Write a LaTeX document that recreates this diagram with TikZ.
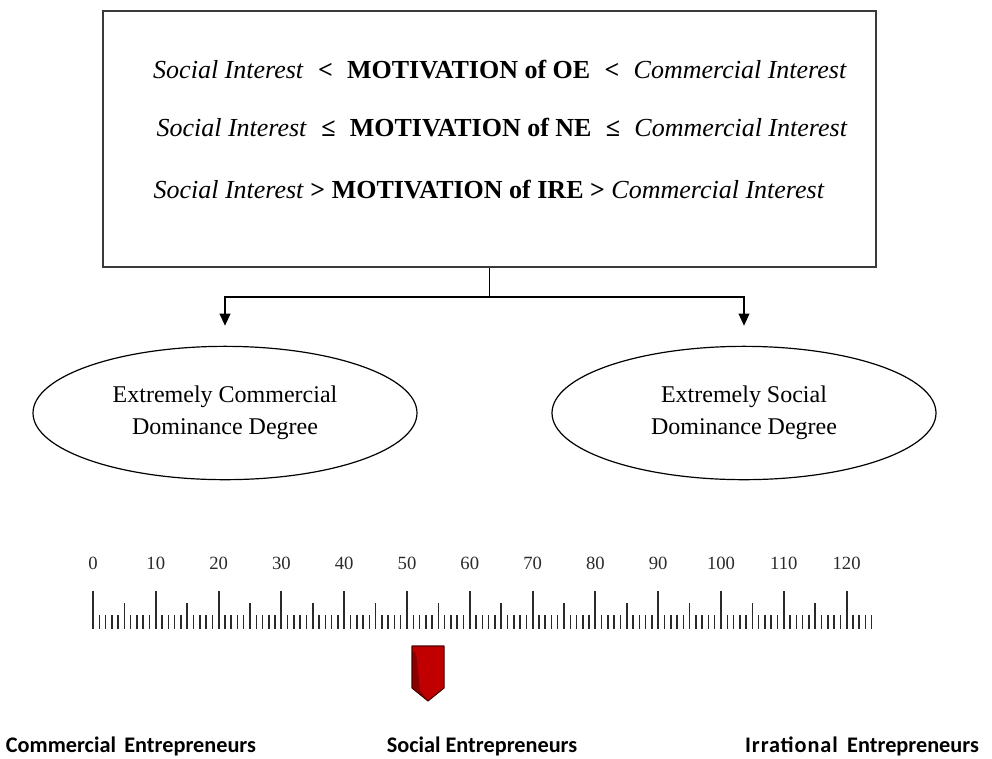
\documentclass[tikz,border=0pt]{standalone}
\usepackage{fontspec}
\setmainfont{Liberation Serif}
\newfontfamily\calib{Carlito}
\usetikzlibrary{shapes.geometric,arrows.meta}
\definecolor{mred}{HTML}{C00000}
\definecolor{mdark}{HTML}{4A0000}
\definecolor{mshade}{HTML}{8A0000}
\definecolor{boxline}{HTML}{3A3A3A}
\definecolor{numcol}{HTML}{2A2A2A}
\newcommand{\wsp}{\hspace{0.3em}}
\begin{document}
\begin{tikzpicture}[x=0.75pt,y=-0.75pt,
  mainbox/.style={draw=boxline, line width=1.5pt, minimum width=579.75pt, minimum height=192pt, inner sep=0pt},
  motline/.style={font=\fontsize{19.5}{22}\selectfont, inner sep=0pt},
  ellnode/.style={ellipse, draw=black, line width=0.9pt, minimum width=288pt, minimum height=100pt, inner sep=0pt, align=center, font=\fontsize{18}{24}\selectfont},
  conn/.style={draw=black, line width=1.1pt},
  arr/.style={conn, -{Triangle[width=8pt,length=9pt]}, shorten >=15pt},
  tick/.style={draw=numcol, line width=1.15pt},
  midtick/.style={draw=numcol, line width=1.3pt},
  bigtick/.style={draw=numcol, line width=1.6pt},
  numlab/.style={text=numcol, font=\fontsize{14}{16}\selectfont, inner sep=0pt},
  entlab/.style={font=\calib\bfseries\fontsize{16.7}{20}\selectfont, inner sep=0pt}
]
\useasboundingbox (0,0) rectangle (992,758);

% top box
\node[mainbox] (box) at (489.5,139) {};
\node[motline] (l1) at (500,70) {\textit{Social Interest}\wsp{} \textbf{<\wsp{} MOTIVATION of OE\wsp{} <}\wsp{} \textit{Commercial Interest}};
\node[motline] (l2) at (502,128) {\textit{Social Interest}\wsp{} \textbf{≤\wsp{} MOTIVATION of NE\wsp{} ≤}\wsp{} \textit{Commercial Interest}};
\node[motline] (l3) at (489,190) {\textit{Social Interest} \textbf{> MOTIVATION of IRE >} \textit{Commercial Interest}};

% ellipses
\node[ellnode] (e1) at (225,413) {Extremely Commercial\\Dominance Degree};
\node[ellnode] (e2) at (744,413) {Extremely Social\\Dominance Degree};

% connectors
\coordinate (j) at (box.south |- 0,297);
\draw[conn] (box.south) -- (j);
\draw[arr] (j) -| (e1.north);
\draw[arr] (j) -| (e2.north);

% ruler
\foreach \i in {0,...,124} \draw[tick] (93+6.28*\i,615) -- (93+6.28*\i,629);
\foreach \i in {5,15,...,115} \draw[midtick] (93+6.28*\i,603) -- (93+6.28*\i,629);
\foreach \i in {0,10,...,120} {
  \draw[bigtick] (93+6.28*\i,591) -- (93+6.28*\i,629);
  \node[numlab] (n\i) at (93+6.28*\i,563) {\i};
}

% marker
\fill[mred] (412,646) -- (444,646) -- (444,688) -- (428,701) -- (412,688) -- cycle;
\fill[mshade] (412,652) -- (416,652) -- (420,690) -- (428,701) -- (412,688) -- cycle;
\draw[mdark, line width=0.8pt, line join=round] (412,646) -- (444,646) -- (444,688) -- (428,701) -- (412,688) -- cycle;

% bottom labels
\node[entlab] (c1) at (131,746) {Commercial\hspace{0.15em} Entrepreneurs};
\node[entlab] (c2) at (482,746) {Social Entrepreneurs};
\node[entlab] (c3) at (862,746) {{\addfontfeature{LetterSpace=4}Irrational}\hspace{0.2em} Entrepreneurs};
\end{tikzpicture}
\end{document}
